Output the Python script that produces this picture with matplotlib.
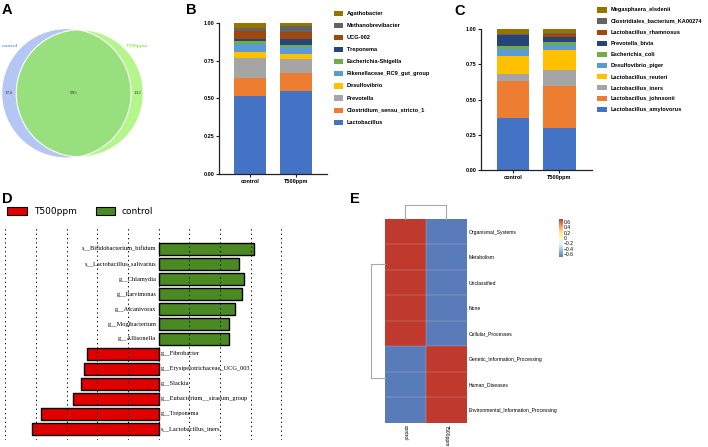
import numpy as np
import matplotlib
matplotlib.use("Agg")
import matplotlib.pyplot as plt
from matplotlib.patches import Circle, Rectangle
from matplotlib.colors import LinearSegmentedColormap, Normalize
from matplotlib.cm import ScalarMappable

# ---------------- data ----------------
venn_sets = ["control", "T500ppm"]
venn_only_control = 174
venn_shared = 995
venn_only_t500 = 132

groups = ["control", "T500ppm"]

genus_names = ["Lactobacillus", "Clostridium_sensu_stricto_1", "Prevotella", "Desulfovibrio",
               "Rikenellaceae_RC9_gut_group", "Escherichia-Shigella", "Treponema", "UCG-002",
               "Methanobrevibacter", "Agathobacter"]
genus_control = [0.515, 0.121, 0.128, 0.040, 0.057, 0.018, 0.013, 0.053, 0.022, 0.033]
genus_t500 = [0.548, 0.117, 0.097, 0.031, 0.048, 0.013, 0.040, 0.044, 0.040, 0.022]

species_names = ["Lactobacillus_amylovorus", "Lactobacillus_johnsonii", "Lactobacillus_iners",
                 "Lactobacillus_reuteri", "Desulfovibrio_piger", "Escherichia_coli",
                 "Prevotella_bivia", "Lactobacillus_rhamnosus", "Clostridiales_bacterium_KA00274",
                 "Megasphaera_elsdenii"]
species_control = [0.370, 0.260, 0.050, 0.130, 0.050, 0.022, 0.075, 0.006, 0.006, 0.031]
species_t500 = [0.300, 0.300, 0.114, 0.141, 0.036, 0.022, 0.033, 0.019, 0.011, 0.024]

stack_colors = ["#4472C4", "#ED7D31", "#A5A5A5", "#FFC000", "#5B9BD5",
                "#70AD47", "#264478", "#9E480E", "#636363", "#997300"]

lefse_taxa = ["s__Bifidobacterium_bifidum", "s__Lactobacillus_salivarius", "g__Chlamydia",
              "g__Parvimonas", "g__Alcanivorax", "g__Mogibacterium", "g__Allisonella",
              "g__Fibrobacter", "g__Erysipelotrichaceae_UCG_003", "g__Slackia",
              "g__Eubacterium__siraeum_group", "g__Treponema", "s__Lactobacillus_iners"]
lefse_lda = [3.10, 2.63, 2.79, 2.72, 2.48, 2.30, 2.29,
             -2.35, -2.42, -2.54, -2.78, -3.85, -4.13]
lefse_groups = ["control"] * 7 + ["T500ppm"] * 6

heat_rows = ["Organismal_Systems", "Metabolism", "Unclassified", "None", "Cellular_Processes",
             "Genetic_Information_Processing", "Human_Diseases",
             "Environmental_Information_Processing"]
heat_cols = ["control", "T500ppm"]
heat_values = [[0.707, -0.707], [0.707, -0.707], [0.707, -0.707], [0.707, -0.707],
               [0.707, -0.707], [-0.707, 0.707], [-0.707, 0.707], [-0.707, 0.707]]
row_tree = ((0, ((1, 2), (3, 4))), (5, (6, 7)))
col_tree = (0, 1)
cbar_ticks = [0.6, 0.4, 0.2, 0, -0.2, -0.4, -0.6]

# ---------------- figure ----------------
W, H = 708, 447
fig = plt.figure(figsize=(7.08, 4.47), dpi=100)
SANS = "Liberation Sans"
SERIF = "Liberation Serif"


def ax_px(l, t, r, b):
    return fig.add_axes([l / W, 1 - b / H, (r - l) / W, (b - t) / H])


def ftext(x, y, s, **kw):
    return fig.text(x / W, 1 - y / H, s, **kw)


# panel letters
for lab, x, y in [("A", 2, 14), ("B", 186, 13.5), ("C", 454, 15), ("D", 2, 203), ("E", 350, 203)]:
    ftext(x, y, lab, fontsize=10.5, fontweight="bold", family=SANS, va="baseline", ha="left")

# ---------------- A: Venn ----------------
axA = ax_px(0, 0, 170, 200)
axA.set_xlim(0, 170)
axA.set_ylim(200, 0)
axA.axis("off")
n1 = venn_only_control + venn_shared
n2 = venn_only_t500 + venn_shared
k = 64.7 / np.sqrt(n1)
r1, r2 = k * np.sqrt(n1), k * np.sqrt(n2)
target = np.pi * k ** 2 * venn_shared


def lens(d):
    a = r1 ** 2 * np.arccos((d ** 2 + r1 ** 2 - r2 ** 2) / (2 * d * r1))
    b = r2 ** 2 * np.arccos((d ** 2 + r2 ** 2 - r1 ** 2) / (2 * d * r2))
    c = 0.5 * np.sqrt((-d + r1 + r2) * (d + r1 - r2) * (d - r1 + r2) * (d + r1 + r2))
    return a + b - c


lo, hi = abs(r1 - r2) + 1e-6, r1 + r2 - 1e-6
for _ in range(80):
    mid = 0.5 * (lo + hi)
    if lens(mid) > target:
        lo = mid
    else:
        hi = mid
d = 0.5 * (lo + hi)
cx1, cy = 66.4, 93.3
cx2 = cx1 + d
c1 = Circle((cx1, cy), r1, fc="#B4C7F4", ec="none")
axA.add_patch(c1)
c2 = Circle((cx2, cy), r2, fc="#B5F68C", ec="none")
axA.add_patch(c2)
c3 = Circle((cx2, cy), r2, fc="#97E07D", ec="none")
axA.add_patch(c3)
c3.set_clip_path(c1)
axA.add_patch(Circle((cx1, cy), r1, fill=False, ec="white", lw=0.8))
axA.add_patch(Circle((cx2, cy), r2, fill=False, ec="white", lw=0.8))
axA.text(((cx1 - r1) + (cx2 - r2)) / 2, cy, str(venn_only_control), ha="center", va="center",
         fontsize=3.8, family=SERIF, color="#333333")
axA.text(((cx2 - r2) + (cx1 + r1)) / 2, cy, str(venn_shared), ha="center", va="center",
         fontsize=3.8, family=SERIF, color="#333333")
axA.text(((cx1 + r1) + (cx2 + r2)) / 2, cy, str(venn_only_t500), ha="center", va="center",
         fontsize=3.8, family=SERIF, color="#333333")
axA.text(2, 46, venn_sets[0], ha="left", va="center", fontsize=3.8, family=SERIF,
         color="#7C9BEA", fontweight="bold")
axA.text(126, 46.5, venn_sets[1], ha="left", va="center", fontsize=3.8, family=SERIF,
         color="#8EEB55", fontweight="bold")


# ---------------- B / C stacked bars ----------------
def stacked(ax, names, v_ctrl, v_t, xlim):
    x = np.arange(len(groups))
    bottom = np.zeros(len(groups))
    for i, nm in enumerate(names):
        vals = np.array([v_ctrl[i], v_t[i]])
        ax.bar(x, vals, 0.7, bottom=bottom, color=stack_colors[i], lw=0)
        bottom += vals
    ax.set_xlim(*xlim)
    ax.set_ylim(0, 1)
    ax.set_yticks([0, 0.25, 0.5, 0.75, 1.0])
    ax.set_yticklabels(["0.00", "0.25", "0.50", "0.75", "1.00"])
    ax.set_xticks(x)
    ax.set_xticklabels(groups)
    for s in ["top", "right"]:
        ax.spines[s].set_visible(False)
    for s in ["left", "bottom"]:
        ax.spines[s].set_linewidth(0.9)
        ax.spines[s].set_color("#222222")
    ax.tick_params(length=2, width=0.8, pad=1.5, labelsize=4, color="#222222")
    for t in ax.get_xticklabels() + ax.get_yticklabels():
        t.set_fontweight("bold")
        t.set_family(SANS)


axB = ax_px(219, 22.7, 327, 174)
stacked(axB, genus_names, genus_control, genus_t500, (-0.674, 1.674))
axC = ax_px(481, 29.3, 592, 170)
stacked(axC, species_names, species_control, species_t500, (-0.69, 1.70))


def legend_px(names, px, y0, dy, tx):
    n = len(names)
    for j in range(n):
        i = n - 1 - j
        y = y0 + j * dy
        fig.patches.append(Rectangle((px / W, 1 - (y + 2.6) / H), 9.5 / W, 5.2 / H,
                                     transform=fig.transFigure, fc=stack_colors[i], ec="none"))
        ftext(tx, y, names[i], fontsize=4.1, fontweight="bold", family=SANS, va="center", ha="left")


legend_px(genus_names, 333.5, 13.3, 12.1, 347)
legend_px(species_names, 597, 10.0, 11.08, 611)

# ---------------- D: LEfSe ----------------
axD = ax_px(4.7, 226, 282, 440)
ypos = np.arange(len(lefse_taxa))
col_map = {"control": "#4B8A22", "T500ppm": "#E00000"}
axD.barh(ypos, lefse_lda, height=0.8, color=[col_map[g] for g in lefse_groups],
         edgecolor="black", lw=1.0, zorder=1)
axD.set_xlim(-5.02, 4.02)
axD.set_ylim(12.75, -1.55)
axD.set_xticks(np.arange(-5, 5))
axD.set_axisbelow(False)
axD.xaxis.grid(True, ls=(0, (1.3, 3.2)), color="black", lw=0.7)
axD.tick_params(length=0, labelbottom=False, labelleft=False)
axD.set_yticks([])
for s in axD.spines.values():
    s.set_visible(False)
for yy, v, nm in zip(ypos, lefse_lda, lefse_taxa):
    if v > 0:
        axD.text(-0.08, yy, nm, ha="right", va="center", fontsize=4.6, family=SERIF, zorder=5)
    else:
        axD.text(0.08, yy, nm, ha="left", va="center", fontsize=4.6, family=SERIF, zorder=5)

# legend D
for (x0, x1, tx, g) in [(7.3, 26.7, 34.3, "T500ppm"), (96, 115, 121.7, "control")]:
    fig.patches.append(Rectangle((x0 / W, 1 - 215.3 / H), (x1 - x0) / W, 8 / H,
                                 transform=fig.transFigure, fc=col_map[g], ec="black", lw=0.8))
    ftext(tx, 211.3, g, fontsize=6.5, family="DejaVu Sans", va="center", ha="left")

# ---------------- E: heatmap ----------------
cmap = LinearSegmentedColormap.from_list(
    "pheat", ["#5A7BBA", "#91BFDB", "#E0F3F8", "#FFFFBF", "#FEE090", "#FC8D59", "#C0392E"])
norm = Normalize(vmin=-0.707, vmax=0.707)
axE = ax_px(385, 219, 466.7, 422.7)
hv = np.array(heat_values)
axE.pcolormesh(np.arange(hv.shape[1] + 1), np.arange(hv.shape[0] + 1), hv, cmap=cmap, norm=norm,
               edgecolors="none", antialiased=False)
for yb in range(1, hv.shape[0]):
    axE.axhline(yb, color="#D8D8D8", lw=0.25, alpha=0.7)
axE.axvline(1, color="#D8D8D8", lw=0.25, alpha=0.7)
axE.set_xlim(0, hv.shape[1])
axE.set_ylim(hv.shape[0], 0)
axE.set_xticks(np.arange(hv.shape[1]) + 0.5)
axE.set_xticklabels(heat_cols, rotation=270, fontsize=3.6, family=SANS)
axE.yaxis.tick_right()
axE.set_yticks(np.arange(hv.shape[0]) + 0.5)
axE.set_yticklabels(heat_rows, fontsize=3.6, family=SANS)
axE.tick_params(length=0, pad=1.5)
for s in axE.spines.values():
    s.set_visible(False)


def node_pos(n):
    if isinstance(n, int):
        return n + 0.5
    return np.mean([node_pos(c) for c in n])


def draw_tree(ax, node, height, horizontal):
    if isinstance(node, int):
        return
    ch = [node_pos(c) for c in node]
    if height > 0:
        if horizontal:
            ax.plot([height, height], [ch[0], ch[1]], color="#A9A9A9", lw=0.8, clip_on=False)
            for p in ch:
                ax.plot([height, 0], [p, p], color="#A9A9A9", lw=0.8, clip_on=False)
        else:
            ax.plot([ch[0], ch[1]], [height, height], color="#A9A9A9", lw=0.8, clip_on=False)
            for p in ch:
                ax.plot([p, p], [height, 0], color="#A9A9A9", lw=0.8, clip_on=False)
    for c in node:
        draw_tree(ax, c, 0.0, horizontal)


axR = ax_px(371, 219, 385, 422.7)
axR.set_xlim(1, 0)
axR.set_ylim(hv.shape[0], 0)
axR.axis("off")
draw_tree(axR, row_tree, 1.0, True)

axT = ax_px(385, 205, 466.7, 219)
axT.set_xlim(0, hv.shape[1])
axT.set_ylim(0, 1)
axT.axis("off")
draw_tree(axT, col_tree, 1.0, False)

cax = ax_px(559, 219, 562.5, 257)
cb = fig.colorbar(ScalarMappable(norm=norm, cmap=cmap), cax=cax, ticks=cbar_ticks)
cb.outline.set_visible(False)
cb.ax.set_yticklabels([("%g" % t).replace("-", "\u2212") for t in cbar_ticks])
cax.tick_params(length=0, labelsize=3.6, pad=1)
for t in cax.get_yticklabels():
    t.set_family(SANS)

fig.savefig("out.png", dpi=100)
